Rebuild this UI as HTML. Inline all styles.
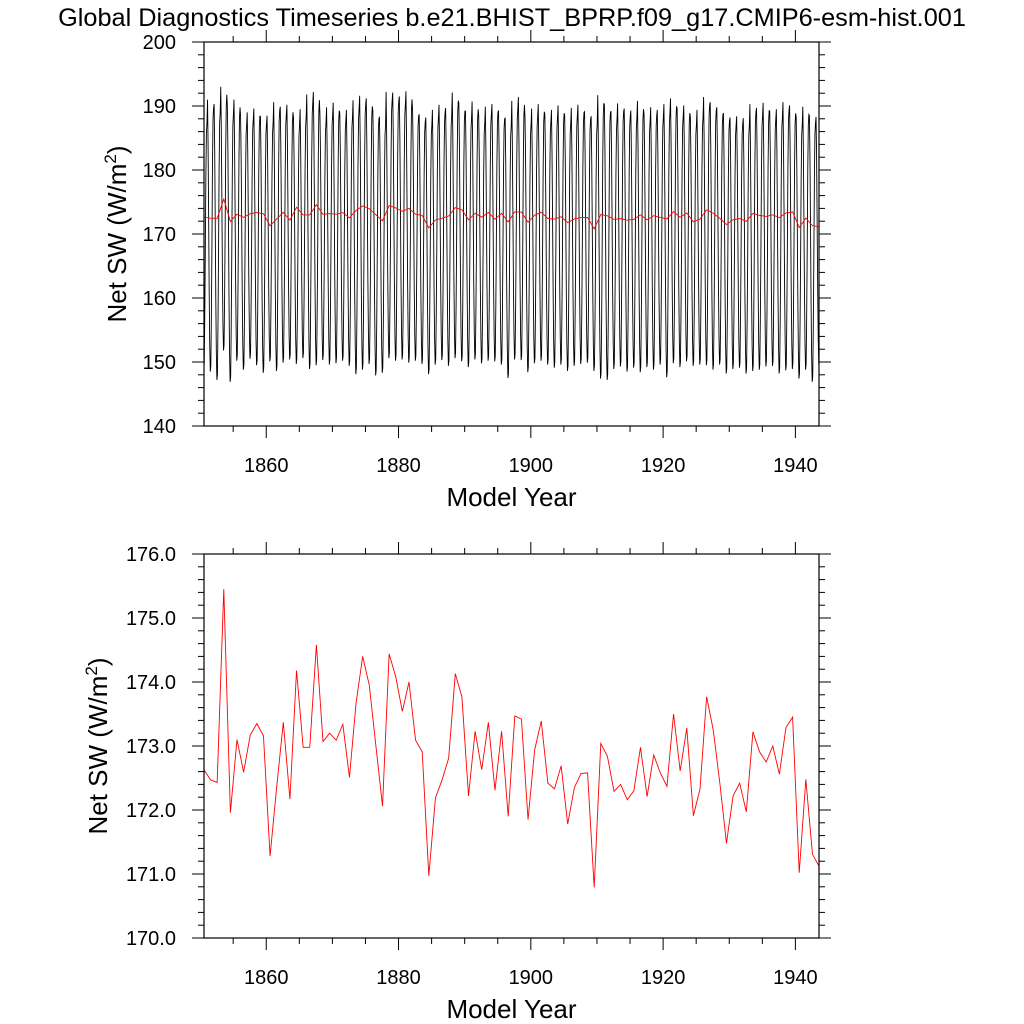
<!DOCTYPE html>
<html><head><meta charset="utf-8"><style>
body{margin:0;background:#fff;width:1024px;height:1024px;overflow:hidden}
svg{display:block;font-family:"Liberation Sans",Arial,sans-serif}
</style></head><body>
<svg id="chart" width="1024" height="1024" viewBox="0 0 1024 1024">
<text x="512" y="26" text-anchor="middle" font-size="25.3">Global Diagnostics Timeseries b.e21.BHIST_BPRP.f09_g17.CMIP6-esm-hist.001</text>
</svg>
<script>
const startYear = 1850;
const annualMean = [172.63,172.47,172.43,175.45,171.96,173.1,172.59,173.17,173.35,173.16,
171.28,172.36,173.37,172.17,174.18,172.98,172.98,174.58,173.07,173.2,
173.09,173.34,172.51,173.67,174.4,173.95,173.0,172.06,174.44,174.08,
173.54,174.0,173.09,172.91,170.97,172.19,172.47,172.81,174.13,173.77,
172.22,173.23,172.63,173.37,172.31,173.23,171.9,173.47,173.42,171.85,
172.94,173.39,172.42,172.33,172.69,171.78,172.35,172.57,172.58,170.79,
173.04,172.84,172.29,172.4,172.16,172.3,172.98,172.21,172.86,172.58,
172.37,173.5,172.61,173.28,171.91,172.33,173.77,173.25,172.42,171.48,
172.22,172.42,171.97,173.22,172.91,172.75,173.0,172.56,173.29,173.45,
171.02,172.48,171.31,171.12];
const annualPeak = [188.5,191,190.3,193,190,191,188.3,189,189.6,188.4,
188.5,190.6,189.9,190.2,188.2,189.5,191.8,192.2,188.6,189.8,
190.5,188.9,189.4,190.9,191.6,191.2,189.3,188.2,192.2,192.1,
191.5,192.3,189.6,188.7,188.2,189.4,190.2,189.7,192.1,190.4,
189.2,190.7,188.5,189.9,190.3,189.2,188.1,190.8,191.4,188.2,
189.6,190.3,188.7,189.4,190.1,188.5,189.7,190.2,189.1,188.4,
191.7,190.3,189.2,190.4,189.6,189.3,190.8,188.7,189.8,189.4,
190.3,191.2,189.6,190.1,188.3,189.4,191.4,190.6,189.8,188.9,
188.2,188.4,188.1,190.3,189.7,190.5,189.2,189.5,190.6,190.1,
188.3,189.9,188.5,188.3];
const annualTrough = [149,148.5,147.2,151.8,146.9,150.2,148.8,150.5,149.5,148.3,
150.1,148.6,149.9,150.4,149.7,150.6,148.9,149.5,150.3,149.6,
149.8,150.2,149.4,148.1,148.8,149.7,147.9,148.3,150.6,150.2,
150.4,149.9,150.2,149.7,148.1,149.6,150.3,149.4,150.6,150.1,
149.2,150.4,149.8,150.2,150.1,149.6,147.5,150.4,150.3,148.4,
149.8,150.2,149.6,149.1,149.6,148.6,149.4,149.7,149.9,148.6,
147.4,147.2,148.9,149.3,148.5,149.1,148.4,149.2,148.8,149.6,
147.6,149.8,149.2,150.1,149.4,149.6,149.5,148.8,149.6,148.2,
148.9,149.1,148.2,148.6,148.8,149.3,149.4,148.2,148.7,148.9,
147.4,148.8,146.9,149.6];
const monthShape = [1.0,0.84,0.58,0.3,0.1,0.0,0.02,0.2,0.46,0.76,0.93,0.97];
const xTicks = [1860,1880,1900,1920,1940];
const topYTicks = [140,150,160,170,180,190,200];
const botYTicks = [170,171,172,173,174,175,176];

const NS='http://www.w3.org/2000/svg';
const svg=document.getElementById('chart');
const X0=204,X1=819,XMIN=1850.59,XMAX=1943.57;
function xs(t){return X0+(t-XMIN)/(XMAX-XMIN)*(X1-X0);}
function mk(tag,attrs,parent){const e=document.createElementNS(NS,tag);for(const k in attrs)e.setAttribute(k,attrs[k]);(parent||svg).appendChild(e);return e;}

function panel(name,top,bottom,ymin,ymax,yticks,minorStep,labelDec,drawMonthly){
  const g=mk('g',{});
  
  
  const ys=v=>bottom-(v-ymin)/(ymax-ymin)*(bottom-top);
  const clipId='clip-'+name;
  const cp=mk('clipPath',{id:clipId},g);
  mk('rect',{x:X0,y:top,width:X1-X0,height:bottom-top},cp);
  if(drawMonthly){
    let pts=[];
    for(let i=0;i<annualPeak.length;i++){
      for(let m=0;m<12;m++){
        const t=startYear+i+(m+0.5)/12+0.08;
        const v=annualTrough[i]+monthShape[m]*(annualPeak[i]-annualTrough[i]);
        pts.push(xs(t).toFixed(2)+','+ys(v).toFixed(2));
      }
    }
    const pl=mk('polyline',{points:pts.join(' '),fill:'none',stroke:'#000','stroke-width':0.9,'clip-path':'url(#'+clipId+')'},g);
    
    
  }
  const apts=annualMean.map((v,i)=>xs(startYear+i+0.58).toFixed(2)+','+ys(v).toFixed(2));
  const al=mk('polyline',{points:apts.join(' '),fill:'none',stroke:'#f00','stroke-width':0.9,'clip-path':'url(#'+clipId+')'},g);
  
  
  const fr=mk('rect',{x:X0,y:top,width:X1-X0,height:bottom-top,fill:'none',stroke:'#000','stroke-width':1.2},g);
  
  
  for(let v=ymin;v<=ymax+1e-6;v+=minorStep){
    const y=ys(v);const major=yticks.some(t=>Math.abs(t-v)<1e-6);const L=major?12:6;
    mk('line',{x1:X0-L,x2:X0,y1:y,y2:y,stroke:'#000','stroke-width':1},g);
    mk('line',{x1:X1,x2:X1+L,y1:y,y2:y,stroke:'#000','stroke-width':1},g);
  }
  yticks.forEach(v=>{
    const t=mk('text',{x:X0-28,y:ys(v)+7,'text-anchor':'end','font-size':20},g);
    t.textContent=v.toFixed(labelDec);
    
    
  });
  for(let yr=1855;yr<=1940;yr+=5){
    const x=xs(yr);const major=xTicks.includes(yr);const L=major?12:6;
    mk('line',{x1:x,x2:x,y1:bottom,y2:bottom+L,stroke:'#000','stroke-width':1},g);
    mk('line',{x1:x,x2:x,y1:top-L,y2:top,stroke:'#000','stroke-width':1},g);
  }
  xTicks.forEach(yr=>{
    const t=mk('text',{x:xs(yr),y:bottom+46,'text-anchor':'middle','font-size':20},g);
    t.textContent=yr;
    
    
  });
  const xt=mk('text',{x:(X0+X1)/2,y:bottom+80,'text-anchor':'middle','font-size':26},g);
  xt.textContent='Model Year';
  
  
  const cy=(top+bottom)/2;
  const yt=mk('text',{x:0,y:0,'text-anchor':'middle','font-size':26,transform:'translate('+(labelDec?107:126)+','+cy+') rotate(-90)'},g);
  yt.innerHTML='Net SW (W/m<tspan dy="-10" font-size="17">2</tspan><tspan dy="10">)</tspan>';
  
  
}
panel('top-panel',42,426,140,200,topYTicks,2,0,true);
panel('bottom-panel',554,938,170,176,botYTicks,0.2,1,false);
</script>
</body></html>
